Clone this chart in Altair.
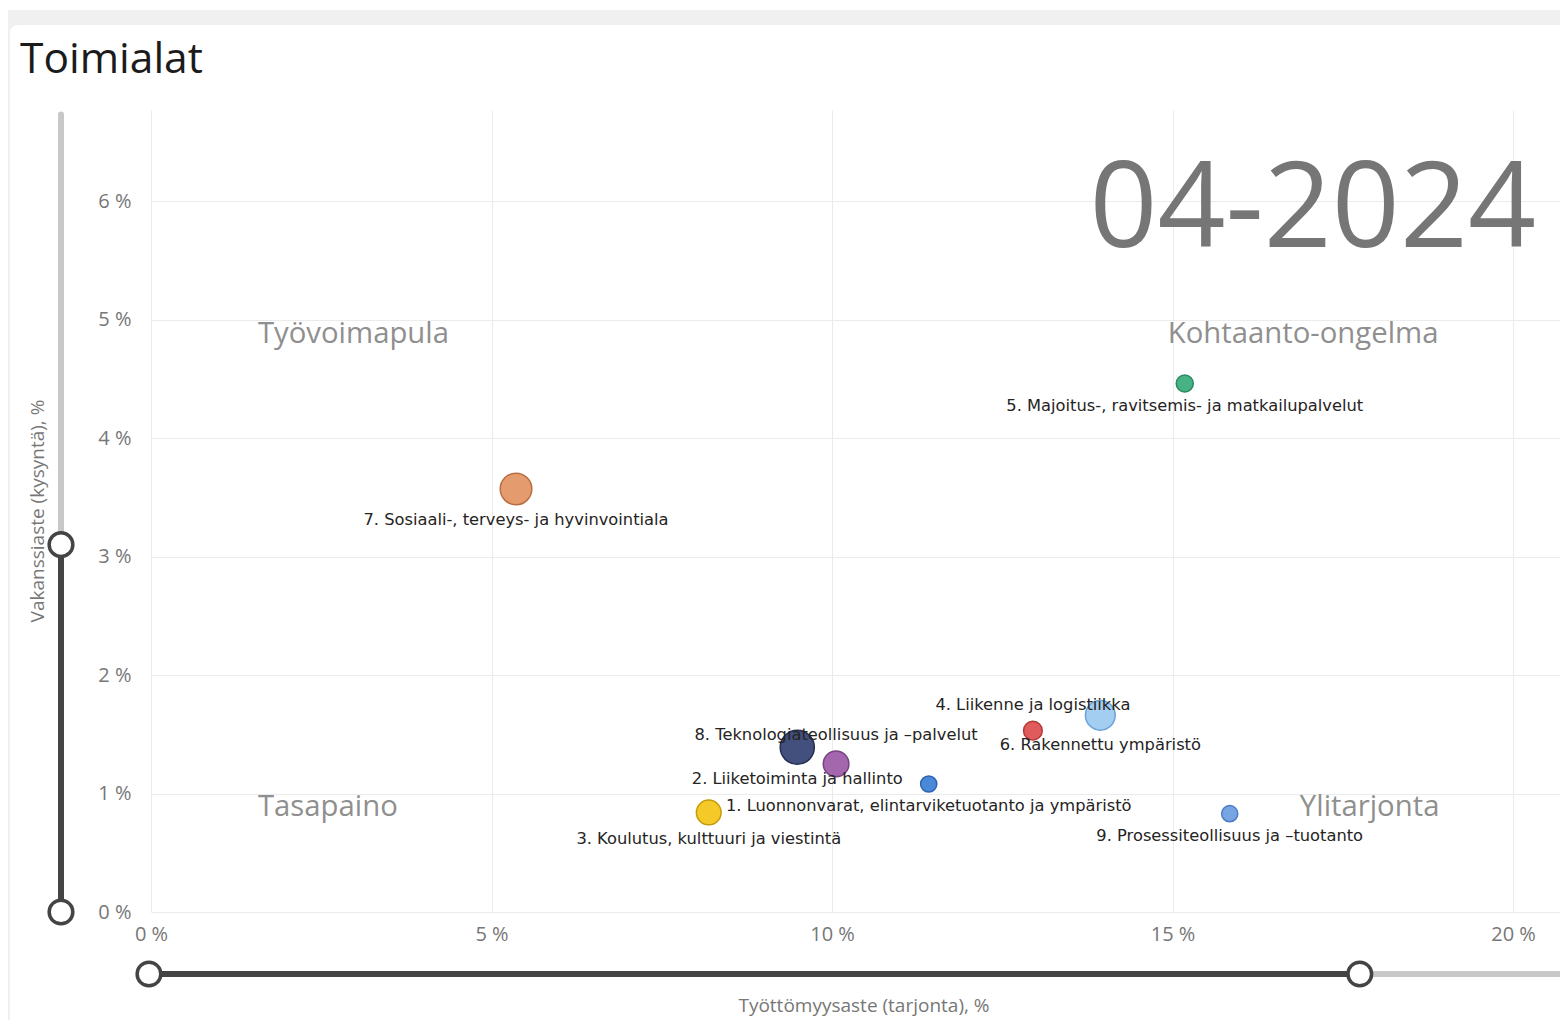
import math
import altair as alt
import pandas as pd

# ---------------- data ----------------
nimet = [
    "1. Luonnonvarat, elintarviketuotanto ja ympäristö",
    "2. Liiketoiminta ja hallinto",
    "3. Koulutus, kulttuuri ja viestintä",
    "4. Liikenne ja logistiikka",
    "5. Majoitus-, ravitsemis- ja matkailupalvelut",
    "6. Rakennettu ympäristö",
    "7. Sosiaali-, terveys- ja hyvinvointiala",
    "8. Teknologiateollisuus ja –palvelut",
    "9. Prosessiteollisuus ja –tuotanto",
]
tyottomyysaste = [11.42, 9.49, 8.19, 12.95, 15.18, 13.94, 5.36, 10.06, 15.84]
vakanssiaste = [1.08, 1.39, 0.84, 1.53, 4.46, 1.66, 3.57, 1.25, 0.83]
koko = [36, 160, 84, 48, 40, 122, 137, 90, 36]

neljannekset = ["Työvoimapula", "Kohtaanto-ongelma", "Tasapaino", "Ylitarjonta"]
neljannes_x = [1.57, 14.93, 1.57, 16.87]
neljannes_y = [4.80, 4.80, 0.81, 0.81]

x_ticks = [0, 5, 10, 15, 20]
y_ticks = [0, 1, 2, 3, 4, 5, 6]
y_liukusaadin = [0, 3.1]
x_liukusaadin = [0, 17.75]

otsikko = "Toimialat"
kuukausi = "04-2024"
x_otsikko = "Työttömyysaste (tarjonta), %"
y_otsikko = "Vakanssiaste (kysyntä), %"

# ---------------- styles ----------------
varit = ["#4a88d8", "#434f7c", "#f4c928", "#e05c5c", "#48b185",
         "#a3cdf1", "#e49c6e", "#a466ac", "#77a5e3"]
reunavarit = ["#2c63b3", "#262f52", "#c39c0c", "#b43a3a", "#2b8a60",
              "#6aa3d8", "#b96d42", "#7a4283", "#4c7dc3"]
sijainti = ["ala", "ala", "ala", "yla", "ala", "ala", "ala", "yla", "ala"]

UI = "Open Sans"
LBL = "DejaVu Sans"
W, H = 1409, 802
X_MAX, Y_MAX = 20.69, 6.768
SIZE_MAX_VAL, SIZE_MAX_AREA = 160, 1164

xsc = alt.Scale(domain=[0, X_MAX], nice=False, zero=True)
ysc = alt.Scale(domain=[0, Y_MAX], nice=False, zero=True)
sizesc = alt.Scale(domain=[0, SIZE_MAX_VAL], range=[0, SIZE_MAX_AREA], zero=True)

common_axis = dict(title=None, grid=True, domain=False, ticks=False,
                   labelExpr="datum.value + ' %'", labelFont=UI, labelFontSize=20,
                   labelColor="#777777", gridColor="#ebebeb", gridWidth=1,
                   labelFlush=False)
xax = alt.Axis(values=x_ticks, labelPadding=12, **common_axis)
yax = alt.Axis(values=y_ticks, labelPadding=20, **common_axis)

df = pd.DataFrame({"nimi": nimet, "x": tyottomyysaste, "y": vakanssiaste, "koko": koko})
one = pd.DataFrame({"d": [0]})

# background strips (Power BI card frame)
strip_top = alt.Chart(one).mark_rect(color="#f0f0f0").encode(
    x=alt.value(-143), x2=alt.value(W + 10), y=alt.value(-100), y2=alt.value(-70))
strip_left = alt.Chart(one).mark_rect(color="#f0f0f0").encode(
    x=alt.value(-143), x2=alt.value(-141), y=alt.value(-100), y2=alt.value(H + 110))
card_top = alt.Chart(one).mark_rect(color="white", cornerRadius=8).encode(
    x=alt.value(-141), x2=alt.value(W + 30), y=alt.value(-85), y2=alt.value(-40))

title = alt.Chart(pd.DataFrame({"t": [otsikko]})).mark_text(
    align="left", baseline="alphabetic", font=UI, fontSize=42.5, color="#1b1b1b"
).encode(x=alt.value(-131), y=alt.value(-37), text="t:N")

month = alt.Chart(pd.DataFrame({"t": [kuukausi]})).mark_text(
    align="right", baseline="alphabetic", font=UI, fontSize=119, color="#767676"
).encode(x=alt.value(1385), y=alt.value(137), text="t:N")

ytitle = alt.Chart(pd.DataFrame({"t": [y_otsikko]})).mark_text(
    align="center", baseline="middle", font=UI, fontSize=19, color="#777777", angle=270
).encode(x=alt.value(-113), y=alt.value(H / 2), text="t:N")

xtitle = alt.Chart(pd.DataFrame({"t": [x_otsikko]})).mark_text(
    align="center", baseline="middle", font=UI, fontSize=19, color="#777777"
).encode(x=alt.value(713), y=alt.value(896), text="t:N")

quad = alt.Chart(pd.DataFrame({"t": neljannekset, "x": neljannes_x, "y": neljannes_y})).mark_text(
    align="left", baseline="alphabetic", font=UI, fontSize=29.3, color="#8f8f8f"
).encode(x=alt.X("x:Q", scale=xsc, axis=xax), y=alt.Y("y:Q", scale=ysc, axis=yax), text="t:N")

# sliders
vs_light = alt.Chart(pd.DataFrame({"a": [6.73], "b": [y_liukusaadin[1]]})).mark_rule(
    color="#c8c8c8", strokeWidth=6, strokeCap="round"
).encode(x=alt.value(-90), y=alt.Y("a:Q", scale=ysc, axis=yax), y2="b:Q")
vs_dark = alt.Chart(pd.DataFrame({"a": [y_liukusaadin[0]], "b": [y_liukusaadin[1]]})).mark_rule(
    color="#444444", strokeWidth=6
).encode(x=alt.value(-90), y=alt.Y("a:Q", scale=ysc, axis=yax), y2="b:Q")
vs_knob = alt.Chart(pd.DataFrame({"a": y_liukusaadin})).mark_point(
    shape="circle", filled=True, fill="white", stroke="#444444", strokeWidth=3.5, size=560, opacity=1
).encode(x=alt.value(-90), y=alt.Y("a:Q", scale=ysc, axis=yax))

hs_light = alt.Chart(pd.DataFrame({"a": [x_liukusaadin[1]], "b": [21.2]})).mark_rule(
    color="#c8c8c8", strokeWidth=6
).encode(y=alt.value(864), x=alt.X("a:Q", scale=xsc, axis=xax), x2="b:Q")
hs_dark = alt.Chart(pd.DataFrame({"a": [x_liukusaadin[0] - 0.03], "b": [x_liukusaadin[1]]})).mark_rule(
    color="#444444", strokeWidth=6
).encode(y=alt.value(864), x=alt.X("a:Q", scale=xsc, axis=xax), x2="b:Q")
hs_knob = alt.Chart(pd.DataFrame({"a": [x_liukusaadin[0] - 0.03, x_liukusaadin[1]]})).mark_point(
    shape="circle", filled=True, fill="white", stroke="#444444", strokeWidth=3.5, size=560, opacity=1
).encode(y=alt.value(864), x=alt.X("a:Q", scale=xsc, axis=xax))

points = alt.Chart(df).mark_circle(opacity=1, strokeWidth=1.5).encode(
    x=alt.X("x:Q", scale=xsc, axis=xax),
    y=alt.Y("y:Q", scale=ysc, axis=yax),
    size=alt.Size("koko:Q", scale=sizesc, legend=None),
    color=alt.Color("nimi:N", scale=alt.Scale(domain=nimet, range=varit), legend=None),
    stroke=alt.Stroke("nimi:N", scale=alt.Scale(domain=nimet, range=reunavarit), legend=None),
)

labels = []
for i, n in enumerate(nimet):
    r = math.sqrt(koko[i] / SIZE_MAX_VAL * SIZE_MAX_AREA / math.pi) + 0.75
    dy = r + 12 if sijainti[i] == "ala" else -(r + 14)
    labels.append(
        alt.Chart(df).transform_filter(alt.FieldEqualPredicate(field="nimi", equal=n)).mark_text(
            align="center", baseline="middle", font=LBL, fontSize=16.3, color="#252423", dy=dy
        ).encode(x=alt.X("x:Q", scale=xsc, axis=xax), y=alt.Y("y:Q", scale=ysc, axis=yax), text="nimi:N")
    )

chart = alt.layer(
    strip_top, strip_left, card_top, title, month, ytitle, xtitle, quad,
    vs_light, vs_dark, vs_knob, hs_light, hs_dark, hs_knob, points, *labels
).properties(
    width=W, height=H,
    autosize=alt.AutoSizeParams(type="none"),
    padding={"left": 143, "top": 102, "right": 0, "bottom": 108},
    background="white",
).configure_view(stroke=None)

chart.save("out.html", embed_options={"renderer": "svg", "actions": False})
